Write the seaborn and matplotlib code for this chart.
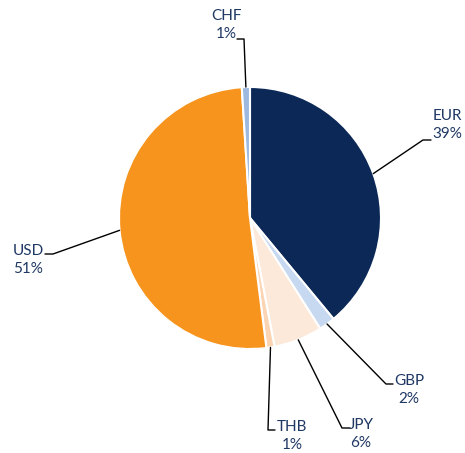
import numpy as np
import matplotlib.pyplot as plt
import seaborn as sns

currencies = ['EUR', 'GBP', 'JPY', 'THB', 'USD', 'CHF']
shares = [39, 2, 6, 1, 51, 1]
labels = [f'{c}\n{s}%' for c, s in zip(currencies, shares)]
colors = ['#0B2857', '#C6D9F1', '#FDE9D9', '#FBD4B4', '#F7941D', '#9DB9DF']

sns.set_theme(style='white')
plt.rcParams['font.family'] = ['Lato', 'DejaVu Sans']

W, H = 465, 453
cx, cy, R = 250, 218, 131  # pie centre / radius in pixels (from top)

fig = plt.figure(figsize=(W / 100, H / 100), dpi=100)
ax = fig.add_axes([0, 0, 1, 1])

wedges, _ = ax.pie(shares, colors=colors, startangle=90, counterclock=False,
                   radius=1, wedgeprops=dict(edgecolor='white', linewidth=1.5))

ax.set_xlim(-cx / R, (W - cx) / R)
ax.set_ylim(-(H - cy) / R, cy / R)
ax.set_aspect('equal')
ax.axis('off')


def px(x, y):
    return (x - cx) / R, (cy - y) / R


# label layout: text centre, knee of leader line, end of leader line (pixels)
layout = {
    'EUR': ((447, 125), (423, 140), (431, 140)),
    'GBP': ((409, 390), (386, 384), (393, 384)),
    'JPY': ((361, 434), (342, 428), (350, 428)),
    'THB': ((292, 436), (268, 430), (275, 430)),
    'USD': ((28, 260), (53, 254), (45, 254)),
    'CHF': ((226, 25), (244, 39), (237, 39)),
}

for w, cur, lab in zip(wedges, currencies, labels):
    mid = np.deg2rad((w.theta1 + w.theta2) / 2)
    ex, ey = np.cos(mid), np.sin(mid)
    (tx, ty), knee, end = layout[cur]
    kx, ky = px(*knee)
    nx, ny = px(*end)
    ax.plot([ex, kx, nx], [ey, ky, ny], color='black', lw=1)
    ax.text(*px(tx, ty), lab, ha='center', va='center', ma='center',
            fontsize=11, color='#1F3864', linespacing=1.35)

plt.savefig('out.png', dpi=100)
